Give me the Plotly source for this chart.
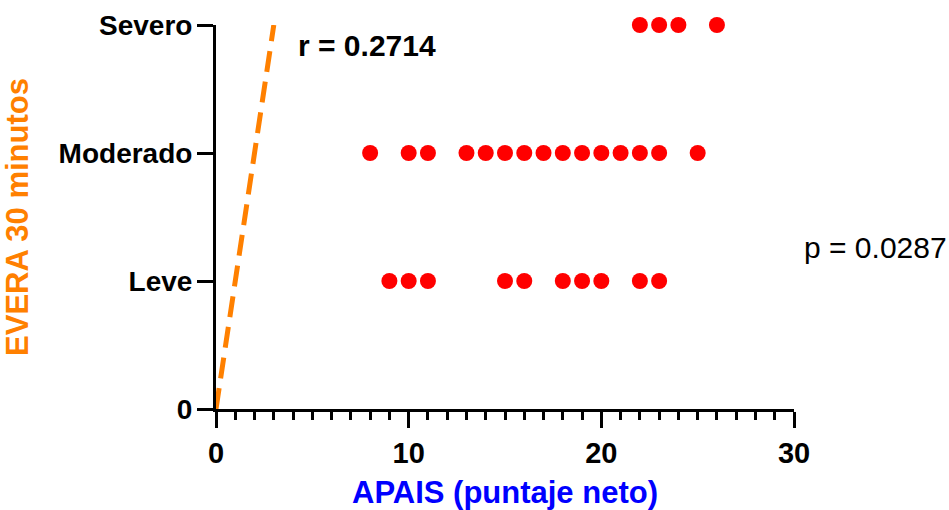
import plotly.graph_objects as go

# APAIS net score for each patient, grouped by EVERA level at 30 minutes
apais_leve = [9, 10, 11, 15, 16, 18, 19, 20, 22, 23]
apais_moderado = [8, 10, 11, 13, 14, 15, 16, 17, 18, 19, 20, 21, 22, 23, 25]
apais_severo = [22, 23, 24, 26]

level_values = [0, 1, 2, 3]
level_labels = ["0", "Leve", "Moderado", "Severo"]

# trend line endpoints
trend_x = [0, 3]
trend_y = [0, 3]

r_text = "r = 0.2714"
p_text = "p = 0.0287"

FONT = "Liberation Sans, Arial, sans-serif"
ORANGE = "#FF8000"

xs = apais_leve + apais_moderado + apais_severo
ys = [1] * len(apais_leve) + [2] * len(apais_moderado) + [3] * len(apais_severo)

fig = go.Figure()
fig.add_trace(go.Scatter(
    x=trend_x, y=trend_y, mode="lines",
    line=dict(color=ORANGE, width=5, dash="21px,10px"),
    hoverinfo="skip", showlegend=False,
))
fig.add_trace(go.Scatter(
    x=xs, y=ys, mode="markers",
    marker=dict(color="#FF0000", size=16, line=dict(width=0)),
    cliponaxis=False, showlegend=False,
))

L, R, T, B = 216, 155, 25, 101
fig.update_layout(
    width=949, height=510,
    margin=dict(l=L, r=R, t=T, b=B),
    plot_bgcolor="white", paper_bgcolor="white",
    font=dict(family=FONT, color="black"),
    xaxis=dict(
        range=[0, 30], tickvals=[0, 10, 20, 30], automargin=False,
        showgrid=False, zeroline=False,
        showline=True, linecolor="black", linewidth=3,
        ticks="outside", ticklen=16, tickwidth=3, tickcolor="black",
        minor=dict(dtick=1, ticks="outside", ticklen=8, tickwidth=3, tickcolor="black", showgrid=False),
        tickfont=dict(family=FONT, size=29, weight="bold", color="black"),
        title=dict(text="APAIS (puntaje neto)", standoff=24,
                   font=dict(family=FONT, size=31, weight="bold", color="#0000FF")),
    ),
    yaxis=dict(
        range=[0, 3], tickvals=level_values, ticktext=level_labels, automargin=False,
        showgrid=False, zeroline=False,
        showline=True, linecolor="black", linewidth=3,
        ticks="outside", ticklen=16, tickwidth=3, tickcolor="black",
        ticklabelstandoff=-1,
        tickfont=dict(family=FONT, size=28, weight="bold", color="black"),
        title=dict(text="EVERA 30 minutos", standoff=30,
                   font=dict(family=FONT, size=31, weight="bold", color=ORANGE)),
    ),
)

# annotations placed by pixel position within the plot area
pw, ph = 949 - L - R, 510 - T - B
fig.layout.annotations = [
    go.layout.Annotation(
        text=r_text, xref="paper", yref="paper",
        x=(296 - L) / pw, y=(409 - 45) / ph,
        xanchor="left", yanchor="middle", showarrow=False,
        font=dict(family=FONT, size=30, weight="bold", color="black"),
    ),
    go.layout.Annotation(
        text=p_text, xref="paper", yref="paper",
        x=(802 - L) / pw, y=(409 - 247) / ph,
        xanchor="left", yanchor="middle", showarrow=False,
        font=dict(family=FONT, size=30, color="black"),
    ),
]

fig.write_html("out.html")
